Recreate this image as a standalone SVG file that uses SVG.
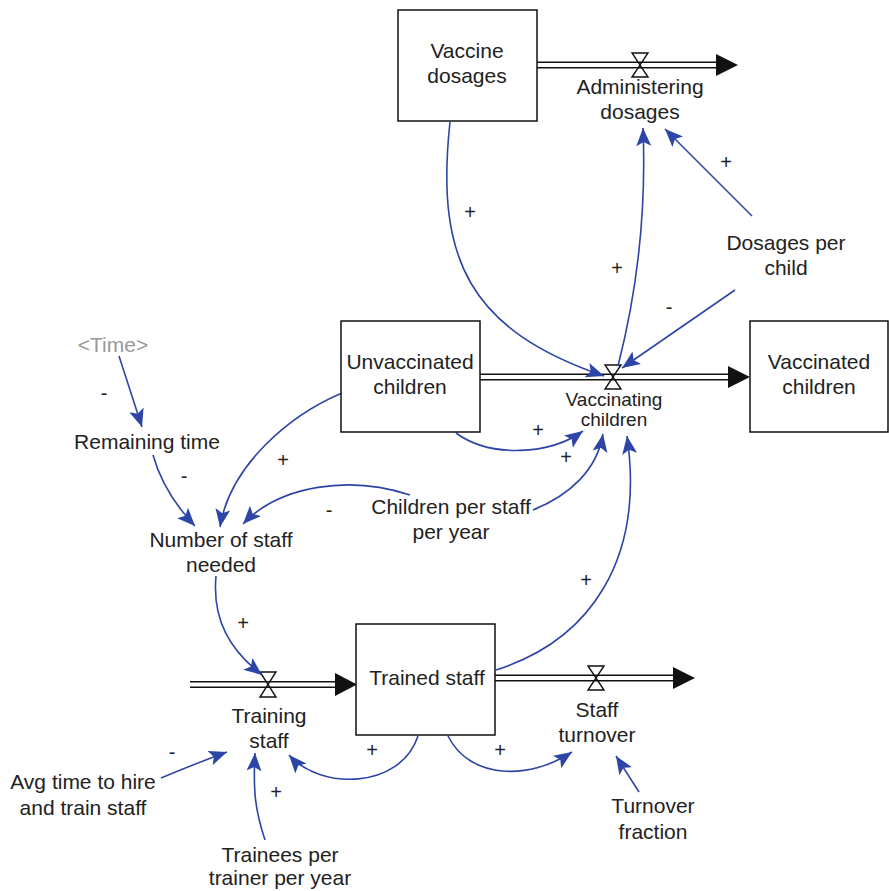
<svg xmlns="http://www.w3.org/2000/svg" width="889" height="891" viewBox="0 0 889 891">
<style>
  .lbl{font-family:"Liberation Sans",Arial,sans-serif;font-size:21px;fill:#222;text-anchor:middle}
  .sm{font-size:19px}
  .gray{fill:#999}
  .sign{font-family:"Liberation Sans",Arial,sans-serif;font-size:20px;fill:#222;text-anchor:middle}
  .box{fill:#fff;stroke:#111;stroke-width:1.5}
  .pipeO{stroke:#111;stroke-width:7;fill:none}
  .pipeI{stroke:#fff;stroke-width:4;fill:none}
  .valve{fill:none;stroke:#111;stroke-width:1.4}
  .head{fill:#111}
  .link{fill:none;stroke:#2d45a6;stroke-width:1.6;marker-end:url(#ah)}
</style>
<defs>
  <marker id="ah" markerUnits="userSpaceOnUse" markerWidth="22" markerHeight="18" refX="18" refY="7.5" orient="auto">
    <path d="M0,0 L18,7.5 L0,15 L4,7.5 Z" fill="#2d45a6"/>
  </marker>
</defs>
<rect width="889" height="891" fill="#fff"/>

<g id="flows">
  <g id="flow-administering">
    <line class="pipeO" x1="537" y1="65" x2="717" y2="65"/>
    <line class="pipeI" x1="537" y1="65" x2="717" y2="65"/>
    <polygon class="head" points="716,54 738,65 716,76"/>
    <path class="valve" d="M632,53 H648 L632,77 H648 Z"/>
  </g>
  <g id="flow-vaccinating">
    <line class="pipeO" x1="480" y1="377" x2="729" y2="377"/>
    <line class="pipeI" x1="480" y1="377" x2="729" y2="377"/>
    <polygon class="head" points="728,366 750,377 728,388"/>
    <path class="valve" d="M605,365 H621 L605,389 H621 Z"/>
  </g>
  <g id="flow-training">
    <line class="pipeO" x1="190" y1="684.5" x2="336" y2="684.5"/>
    <line class="pipeI" x1="190" y1="684.5" x2="336" y2="684.5"/>
    <polygon class="head" points="335,673 357,684.5 335,696"/>
    <path class="valve" d="M260,672 H276 L260,697 H276 Z"/>
  </g>
  <g id="flow-turnover">
    <line class="pipeO" x1="495" y1="678" x2="674" y2="678"/>
    <line class="pipeI" x1="495" y1="678" x2="674" y2="678"/>
    <polygon class="head" points="673,667 695,678 673,689"/>
    <path class="valve" d="M588,666 H604 L588,690 H604 Z"/>
  </g>
</g>

<g id="connectors">
  <path class="link" d="M450,122 C435,260 470,330 604,376"/>
  <path class="link" d="M618,366 C640,280 646,200 643,128"/>
  <path class="link" d="M752,216 L665,129"/>
  <path class="link" d="M735,290 L622,368"/>
  <path class="link" d="M456,433 C490,458 550,455 583,431"/>
  <path class="link" d="M533,510 C570,495 597,470 603,434"/>
  <path class="link" d="M496,670 C590,640 645,560 627,436"/>
  <path class="link" d="M119,356 L142,427"/>
  <path class="link" d="M153,455 C160,480 175,505 195,526"/>
  <path class="link" d="M342,393 C290,415 230,465 220,527"/>
  <path class="link" d="M410,495 C350,475 280,485 243,524"/>
  <path class="link" d="M216,576 C212,620 230,650 262,675"/>
  <path class="link" d="M161,778 C185,768 205,760 227,752"/>
  <path class="link" d="M265,840 C255,810 253,790 255,753"/>
  <path class="link" d="M418,736 C400,790 320,790 289,755"/>
  <path class="link" d="M448,736 C470,780 530,780 572,752"/>
  <path class="link" d="M639,792 L616,756"/>
  <g id="signs">
    <text class="sign" x="470" y="219">+</text>
    <text class="sign" x="617" y="275">+</text>
    <text class="sign" x="726" y="169">+</text>
    <text class="sign" x="669" y="314">-</text>
    <text class="sign" x="538" y="437">+</text>
    <text class="sign" x="566" y="464">+</text>
    <text class="sign" x="104" y="400">-</text>
    <text class="sign" x="184" y="483">-</text>
    <text class="sign" x="283" y="467">+</text>
    <text class="sign" x="329" y="517">-</text>
    <text class="sign" x="243" y="630">+</text>
    <text class="sign" x="586" y="587">+</text>
    <text class="sign" x="172" y="759">-</text>
    <text class="sign" x="276" y="799">+</text>
    <text class="sign" x="372" y="757">+</text>
    <text class="sign" x="500" y="757">+</text>
  </g>
</g>

<g id="vaccine-dosages">
  <rect class="box" x="398" y="10" width="139" height="111"/>
  <text class="lbl" x="467" y="58">Vaccine</text>
  <text class="lbl" x="467" y="83">dosages</text>
</g>
<g id="administering-dosages">
  <text class="lbl" x="640" y="94">Administering</text>
  <text class="lbl" x="640" y="119">dosages</text>
</g>
<g id="dosages-per-child">
  <text class="lbl" x="786" y="250">Dosages per</text>
  <text class="lbl" x="786" y="275">child</text>
</g>
<g id="unvaccinated-children">
  <rect class="box" x="341" y="321" width="139" height="111"/>
  <text class="lbl" x="410" y="369">Unvaccinated</text>
  <text class="lbl" x="410" y="394">children</text>
</g>
<g id="vaccinated-children">
  <rect class="box" x="750" y="321" width="138" height="111"/>
  <text class="lbl" x="819" y="369">Vaccinated</text>
  <text class="lbl" x="819" y="394">children</text>
</g>
<g id="vaccinating-children">
  <text class="lbl sm" x="614" y="406">Vaccinating</text>
  <text class="lbl sm" x="614" y="426">children</text>
</g>
<g id="time">
  <text class="lbl gray" x="113" y="352">&lt;Time&gt;</text>
</g>
<g id="remaining-time">
  <text class="lbl" x="147" y="449">Remaining time</text>
</g>
<g id="children-per-staff">
  <text class="lbl" x="451" y="514">Children per staff</text>
  <text class="lbl" x="451" y="539">per year</text>
</g>
<g id="number-of-staff-needed">
  <text class="lbl" x="221" y="547">Number of staff</text>
  <text class="lbl" x="221" y="572">needed</text>
</g>
<g id="trained-staff">
  <rect class="box" x="356" y="624" width="139" height="111"/>
  <text class="lbl" x="427" y="685">Trained staff</text>
</g>
<g id="training-staff">
  <text class="lbl" x="269" y="723">Training</text>
  <text class="lbl" x="269" y="748">staff</text>
</g>
<g id="staff-turnover">
  <text class="lbl" x="597" y="717">Staff</text>
  <text class="lbl" x="597" y="742">turnover</text>
</g>
<g id="avg-time">
  <text class="lbl" x="83" y="789">Avg time to hire</text>
  <text class="lbl" x="83" y="815">and train staff</text>
</g>
<g id="turnover-fraction">
  <text class="lbl" x="653" y="813">Turnover</text>
  <text class="lbl" x="653" y="839">fraction</text>
</g>
<g id="trainees-per-trainer">
  <text class="lbl" x="280" y="862">Trainees per</text>
  <text class="lbl" x="280" y="885">trainer per year</text>
</g>
</svg>
